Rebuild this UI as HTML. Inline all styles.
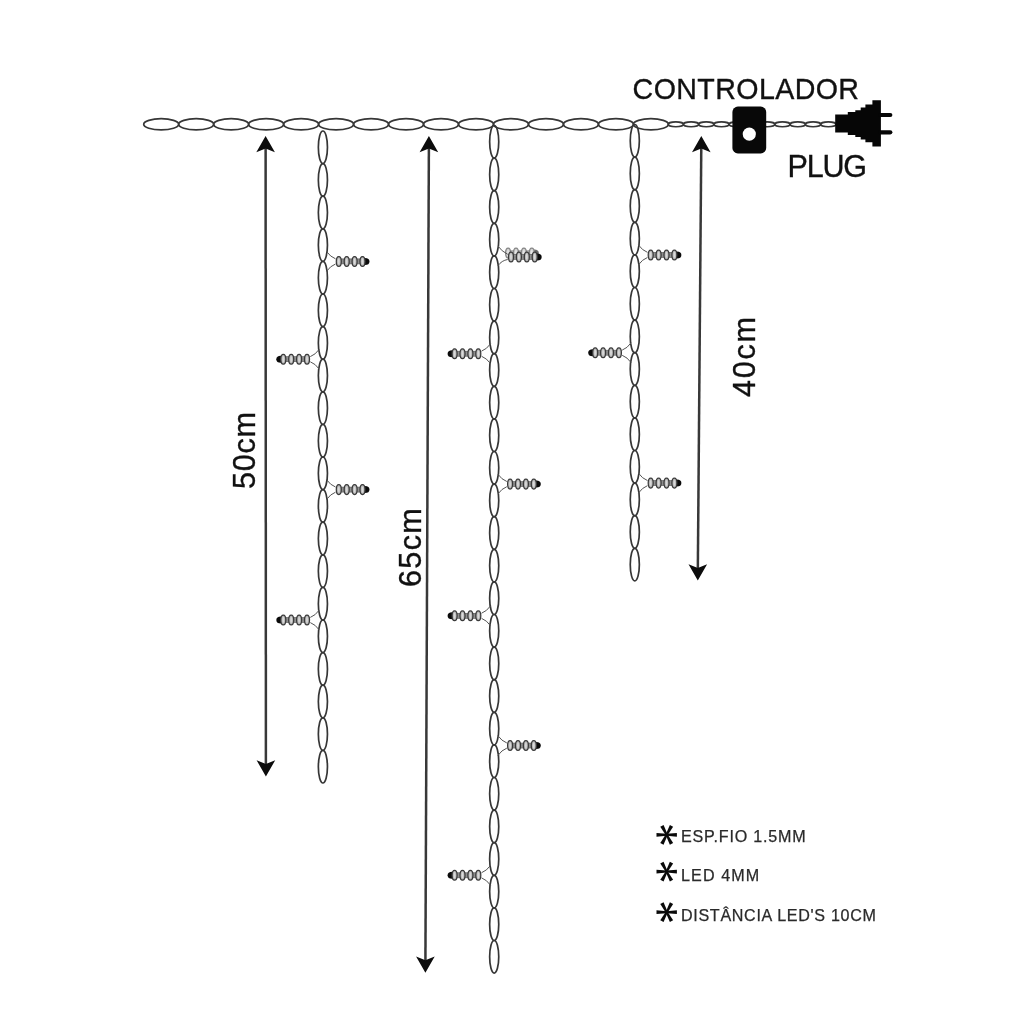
<!DOCTYPE html>
<html lang="pt">
<head>
<meta charset="utf-8">
<title>Cascata LED - diagrama</title>
<style>
html,body{margin:0;padding:0;background:#fff;}
body{filter:blur(0.55px);width:1024px;height:1024px;position:relative;overflow:hidden;font-family:"Liberation Sans",sans-serif;}
svg{position:absolute;left:0;top:0;display:block;}
.t{position:absolute;white-space:nowrap;line-height:1;color:#111;margin:0;-webkit-text-stroke:0.35px #111;}
.big{font-size:28.6px;}
#ctl{left:632.6px;top:74.5px;letter-spacing:0.4px;}
#plug{left:787.6px;top:150.6px;font-size:30.5px;letter-spacing:-1.2px;}
.dim{font-size:30.6px;transform-origin:0 0;transform:rotate(-90deg);}
#d50{left:228.6px;top:488.6px;letter-spacing:0.7px;}
#d65{left:394.8px;top:587.2px;letter-spacing:1.3px;}
#d40{left:729.2px;top:396.8px;letter-spacing:1.7px;}
.leg{font-size:16.1px;color:#2a2a2a;-webkit-text-stroke:0.25px #2a2a2a;letter-spacing:0.42px;}
#l1{left:681px;top:828.3px;letter-spacing:0.8px;}
#l2{left:681px;top:866.6px;letter-spacing:1.1px;}
#l3{left:681px;top:907.1px;letter-spacing:0.68px;}
</style>
</head>
<body>
<svg width="1024" height="1024" viewBox="0 0 1024 1024">
<g fill="none" stroke="#363636" stroke-width="1.7"><ellipse cx="161.19" cy="124.3" rx="17.49" ry="5.6"/><ellipse cx="196.17" cy="124.3" rx="17.49" ry="5.6"/><ellipse cx="231.15" cy="124.3" rx="17.49" ry="5.6"/><ellipse cx="266.13" cy="124.3" rx="17.49" ry="5.6"/><ellipse cx="301.11" cy="124.3" rx="17.49" ry="5.6"/><ellipse cx="336.09" cy="124.3" rx="17.49" ry="5.6"/><ellipse cx="371.07" cy="124.3" rx="17.49" ry="5.6"/><ellipse cx="406.05" cy="124.3" rx="17.49" ry="5.6"/><ellipse cx="441.03" cy="124.3" rx="17.49" ry="5.6"/><ellipse cx="476.01" cy="124.3" rx="17.49" ry="5.6"/><ellipse cx="510.99" cy="124.3" rx="17.49" ry="5.6"/><ellipse cx="545.97" cy="124.3" rx="17.49" ry="5.6"/><ellipse cx="580.95" cy="124.3" rx="17.49" ry="5.6"/><ellipse cx="615.93" cy="124.3" rx="17.49" ry="5.6"/><ellipse cx="650.91" cy="124.3" rx="17.49" ry="5.6"/><ellipse cx="675.82" cy="124.3" rx="7.62" ry="2.45"/><ellipse cx="691.05" cy="124.3" rx="7.62" ry="2.45"/><ellipse cx="706.28" cy="124.3" rx="7.62" ry="2.45"/><ellipse cx="721.5" cy="124.3" rx="7.62" ry="2.45"/><ellipse cx="736.74" cy="124.3" rx="7.62" ry="2.45"/><ellipse cx="828.35" cy="124.3" rx="7.65" ry="2.45"/><ellipse cx="813.05" cy="124.3" rx="7.65" ry="2.45"/><ellipse cx="797.75" cy="124.3" rx="7.65" ry="2.45"/><ellipse cx="782.45" cy="124.3" rx="7.65" ry="2.45"/><ellipse cx="767.15" cy="124.3" rx="7.65" ry="2.45"/></g>
<g fill="none" stroke="#363636" stroke-width="1.7"><ellipse cx="322.9" cy="147.3" rx="4.55" ry="16.3"/><ellipse cx="322.9" cy="179.9" rx="4.55" ry="16.3"/><ellipse cx="322.9" cy="212.5" rx="4.55" ry="16.3"/><ellipse cx="322.9" cy="245.1" rx="4.55" ry="16.3"/><ellipse cx="322.9" cy="277.7" rx="4.55" ry="16.3"/><ellipse cx="322.9" cy="310.3" rx="4.55" ry="16.3"/><ellipse cx="322.9" cy="342.9" rx="4.55" ry="16.3"/><ellipse cx="322.9" cy="375.5" rx="4.55" ry="16.3"/><ellipse cx="322.9" cy="408.1" rx="4.55" ry="16.3"/><ellipse cx="322.9" cy="440.7" rx="4.55" ry="16.3"/><ellipse cx="322.9" cy="473.3" rx="4.55" ry="16.3"/><ellipse cx="322.9" cy="505.9" rx="4.55" ry="16.3"/><ellipse cx="322.9" cy="538.5" rx="4.55" ry="16.3"/><ellipse cx="322.9" cy="571.1" rx="4.55" ry="16.3"/><ellipse cx="322.9" cy="603.7" rx="4.55" ry="16.3"/><ellipse cx="322.9" cy="636.3" rx="4.55" ry="16.3"/><ellipse cx="322.9" cy="668.9" rx="4.55" ry="16.3"/><ellipse cx="322.9" cy="701.5" rx="4.55" ry="16.3"/><ellipse cx="322.9" cy="734.1" rx="4.55" ry="16.3"/><ellipse cx="322.9" cy="766.7" rx="4.55" ry="16.3"/></g>
<path d="M335.5 258.8 Q330.4 256.9 326.5 251.4" fill="none" stroke="#555" stroke-width="1"/><path d="M335.5 264 Q330.4 265.9 326.5 271.4" fill="none" stroke="#555" stroke-width="1"/><ellipse cx="364.9" cy="261.4" rx="4.6" ry="3.5" fill="#0a0a0a"/><rect x="337" y="258.9" width="26.5" height="5" fill="#8e8e8e" stroke="#555" stroke-width="0.6"/><ellipse cx="338.8" cy="261.4" rx="2.5" ry="4.9" fill="#b8b8b8" stroke="#3a3a3a" stroke-width="1.25"/><ellipse cx="338.8" cy="261.4" rx="0.9" ry="3.2" fill="#dadada"/><ellipse cx="346.7" cy="261.4" rx="2.5" ry="4.9" fill="#b8b8b8" stroke="#3a3a3a" stroke-width="1.25"/><ellipse cx="346.7" cy="261.4" rx="0.9" ry="3.2" fill="#dadada"/><ellipse cx="354.6" cy="261.4" rx="2.5" ry="4.9" fill="#b8b8b8" stroke="#3a3a3a" stroke-width="1.25"/><ellipse cx="354.6" cy="261.4" rx="0.9" ry="3.2" fill="#dadada"/><ellipse cx="362.5" cy="261.4" rx="2.5" ry="4.9" fill="#b8b8b8" stroke="#3a3a3a" stroke-width="1.25"/><ellipse cx="362.5" cy="261.4" rx="0.9" ry="3.2" fill="#dadada"/>
<path d="M310.3 356.6 Q315.4 354.7 319.3 349.2" fill="none" stroke="#555" stroke-width="1"/><path d="M310.3 361.8 Q315.4 363.7 319.3 369.2" fill="none" stroke="#555" stroke-width="1"/><ellipse cx="280.9" cy="359.2" rx="4.6" ry="3.5" fill="#0a0a0a"/><rect x="282.3" y="356.7" width="26.5" height="5" fill="#8e8e8e" stroke="#555" stroke-width="0.6"/><ellipse cx="307" cy="359.2" rx="2.5" ry="4.9" fill="#b8b8b8" stroke="#3a3a3a" stroke-width="1.25"/><ellipse cx="307" cy="359.2" rx="0.9" ry="3.2" fill="#dadada"/><ellipse cx="299.1" cy="359.2" rx="2.5" ry="4.9" fill="#b8b8b8" stroke="#3a3a3a" stroke-width="1.25"/><ellipse cx="299.1" cy="359.2" rx="0.9" ry="3.2" fill="#dadada"/><ellipse cx="291.2" cy="359.2" rx="2.5" ry="4.9" fill="#b8b8b8" stroke="#3a3a3a" stroke-width="1.25"/><ellipse cx="291.2" cy="359.2" rx="0.9" ry="3.2" fill="#dadada"/><ellipse cx="283.3" cy="359.2" rx="2.5" ry="4.9" fill="#b8b8b8" stroke="#3a3a3a" stroke-width="1.25"/><ellipse cx="283.3" cy="359.2" rx="0.9" ry="3.2" fill="#dadada"/>
<path d="M335.5 487 Q330.4 485.1 326.5 479.6" fill="none" stroke="#555" stroke-width="1"/><path d="M335.5 492.2 Q330.4 494.1 326.5 499.6" fill="none" stroke="#555" stroke-width="1"/><ellipse cx="364.9" cy="489.6" rx="4.6" ry="3.5" fill="#0a0a0a"/><rect x="337" y="487.1" width="26.5" height="5" fill="#8e8e8e" stroke="#555" stroke-width="0.6"/><ellipse cx="338.8" cy="489.6" rx="2.5" ry="4.9" fill="#b8b8b8" stroke="#3a3a3a" stroke-width="1.25"/><ellipse cx="338.8" cy="489.6" rx="0.9" ry="3.2" fill="#dadada"/><ellipse cx="346.7" cy="489.6" rx="2.5" ry="4.9" fill="#b8b8b8" stroke="#3a3a3a" stroke-width="1.25"/><ellipse cx="346.7" cy="489.6" rx="0.9" ry="3.2" fill="#dadada"/><ellipse cx="354.6" cy="489.6" rx="2.5" ry="4.9" fill="#b8b8b8" stroke="#3a3a3a" stroke-width="1.25"/><ellipse cx="354.6" cy="489.6" rx="0.9" ry="3.2" fill="#dadada"/><ellipse cx="362.5" cy="489.6" rx="2.5" ry="4.9" fill="#b8b8b8" stroke="#3a3a3a" stroke-width="1.25"/><ellipse cx="362.5" cy="489.6" rx="0.9" ry="3.2" fill="#dadada"/>
<path d="M310.3 617.4 Q315.4 615.5 319.3 610" fill="none" stroke="#555" stroke-width="1"/><path d="M310.3 622.6 Q315.4 624.5 319.3 630" fill="none" stroke="#555" stroke-width="1"/><ellipse cx="280.9" cy="620" rx="4.6" ry="3.5" fill="#0a0a0a"/><rect x="282.3" y="617.5" width="26.5" height="5" fill="#8e8e8e" stroke="#555" stroke-width="0.6"/><ellipse cx="307" cy="620" rx="2.5" ry="4.9" fill="#b8b8b8" stroke="#3a3a3a" stroke-width="1.25"/><ellipse cx="307" cy="620" rx="0.9" ry="3.2" fill="#dadada"/><ellipse cx="299.1" cy="620" rx="2.5" ry="4.9" fill="#b8b8b8" stroke="#3a3a3a" stroke-width="1.25"/><ellipse cx="299.1" cy="620" rx="0.9" ry="3.2" fill="#dadada"/><ellipse cx="291.2" cy="620" rx="2.5" ry="4.9" fill="#b8b8b8" stroke="#3a3a3a" stroke-width="1.25"/><ellipse cx="291.2" cy="620" rx="0.9" ry="3.2" fill="#dadada"/><ellipse cx="283.3" cy="620" rx="2.5" ry="4.9" fill="#b8b8b8" stroke="#3a3a3a" stroke-width="1.25"/><ellipse cx="283.3" cy="620" rx="0.9" ry="3.2" fill="#dadada"/>
<g fill="none" stroke="#363636" stroke-width="1.7"><ellipse cx="494.2" cy="141.8" rx="4.55" ry="16.3"/><ellipse cx="494.2" cy="174.4" rx="4.55" ry="16.3"/><ellipse cx="494.2" cy="207" rx="4.55" ry="16.3"/><ellipse cx="494.2" cy="239.6" rx="4.55" ry="16.3"/><ellipse cx="494.2" cy="272.2" rx="4.55" ry="16.3"/><ellipse cx="494.2" cy="304.8" rx="4.55" ry="16.3"/><ellipse cx="494.2" cy="337.4" rx="4.55" ry="16.3"/><ellipse cx="494.2" cy="370" rx="4.55" ry="16.3"/><ellipse cx="494.2" cy="402.6" rx="4.55" ry="16.3"/><ellipse cx="494.2" cy="435.2" rx="4.55" ry="16.3"/><ellipse cx="494.2" cy="467.8" rx="4.55" ry="16.3"/><ellipse cx="494.2" cy="500.4" rx="4.55" ry="16.3"/><ellipse cx="494.2" cy="533" rx="4.55" ry="16.3"/><ellipse cx="494.2" cy="565.6" rx="4.55" ry="16.3"/><ellipse cx="494.2" cy="598.2" rx="4.55" ry="16.3"/><ellipse cx="494.2" cy="630.8" rx="4.55" ry="16.3"/><ellipse cx="494.2" cy="663.4" rx="4.55" ry="16.3"/><ellipse cx="494.2" cy="696" rx="4.55" ry="16.3"/><ellipse cx="494.2" cy="728.6" rx="4.55" ry="16.3"/><ellipse cx="494.2" cy="761.2" rx="4.55" ry="16.3"/><ellipse cx="494.2" cy="793.8" rx="4.55" ry="16.3"/><ellipse cx="494.2" cy="826.4" rx="4.55" ry="16.3"/><ellipse cx="494.2" cy="859" rx="4.55" ry="16.3"/><ellipse cx="494.2" cy="891.6" rx="4.55" ry="16.3"/><ellipse cx="494.2" cy="924.2" rx="4.55" ry="16.3"/><ellipse cx="494.2" cy="956.8" rx="4.55" ry="16.3"/></g>
<g opacity="0.62"><ellipse cx="534.2" cy="253.1" rx="4.6" ry="3.5" fill="#0a0a0a"/><rect x="506.3" y="250.6" width="26.5" height="5" fill="#8e8e8e" stroke="#555" stroke-width="0.6"/><ellipse cx="508.1" cy="253.1" rx="2.5" ry="4.9" fill="#b8b8b8" stroke="#3a3a3a" stroke-width="1.25"/><ellipse cx="508.1" cy="253.1" rx="0.9" ry="3.2" fill="#dadada"/><ellipse cx="516" cy="253.1" rx="2.5" ry="4.9" fill="#b8b8b8" stroke="#3a3a3a" stroke-width="1.25"/><ellipse cx="516" cy="253.1" rx="0.9" ry="3.2" fill="#dadada"/><ellipse cx="523.9" cy="253.1" rx="2.5" ry="4.9" fill="#b8b8b8" stroke="#3a3a3a" stroke-width="1.25"/><ellipse cx="523.9" cy="253.1" rx="0.9" ry="3.2" fill="#dadada"/><ellipse cx="531.8" cy="253.1" rx="2.5" ry="4.9" fill="#b8b8b8" stroke="#3a3a3a" stroke-width="1.25"/><ellipse cx="531.8" cy="253.1" rx="0.9" ry="3.2" fill="#dadada"/></g>
<path d="M507.7 254.3 Q501.7 251.4 497.8 245.9" fill="none" stroke="#555" stroke-width="1"/><path d="M507.7 259.5 Q501.7 260.4 497.8 265.9" fill="none" stroke="#555" stroke-width="1"/><ellipse cx="537.1" cy="256.9" rx="4.6" ry="3.5" fill="#0a0a0a"/><rect x="509.2" y="254.4" width="26.5" height="5" fill="#8e8e8e" stroke="#555" stroke-width="0.6"/><ellipse cx="511" cy="256.9" rx="2.5" ry="4.9" fill="#b8b8b8" stroke="#3a3a3a" stroke-width="1.25"/><ellipse cx="511" cy="256.9" rx="0.9" ry="3.2" fill="#dadada"/><ellipse cx="518.9" cy="256.9" rx="2.5" ry="4.9" fill="#b8b8b8" stroke="#3a3a3a" stroke-width="1.25"/><ellipse cx="518.9" cy="256.9" rx="0.9" ry="3.2" fill="#dadada"/><ellipse cx="526.8" cy="256.9" rx="2.5" ry="4.9" fill="#b8b8b8" stroke="#3a3a3a" stroke-width="1.25"/><ellipse cx="526.8" cy="256.9" rx="0.9" ry="3.2" fill="#dadada"/><ellipse cx="534.7" cy="256.9" rx="2.5" ry="4.9" fill="#b8b8b8" stroke="#3a3a3a" stroke-width="1.25"/><ellipse cx="534.7" cy="256.9" rx="0.9" ry="3.2" fill="#dadada"/>
<path d="M481.6 351.1 Q486.7 349.2 490.6 343.7" fill="none" stroke="#555" stroke-width="1"/><path d="M481.6 356.3 Q486.7 358.2 490.6 363.7" fill="none" stroke="#555" stroke-width="1"/><ellipse cx="452.2" cy="353.7" rx="4.6" ry="3.5" fill="#0a0a0a"/><rect x="453.6" y="351.2" width="26.5" height="5" fill="#8e8e8e" stroke="#555" stroke-width="0.6"/><ellipse cx="478.3" cy="353.7" rx="2.5" ry="4.9" fill="#b8b8b8" stroke="#3a3a3a" stroke-width="1.25"/><ellipse cx="478.3" cy="353.7" rx="0.9" ry="3.2" fill="#dadada"/><ellipse cx="470.4" cy="353.7" rx="2.5" ry="4.9" fill="#b8b8b8" stroke="#3a3a3a" stroke-width="1.25"/><ellipse cx="470.4" cy="353.7" rx="0.9" ry="3.2" fill="#dadada"/><ellipse cx="462.5" cy="353.7" rx="2.5" ry="4.9" fill="#b8b8b8" stroke="#3a3a3a" stroke-width="1.25"/><ellipse cx="462.5" cy="353.7" rx="0.9" ry="3.2" fill="#dadada"/><ellipse cx="454.6" cy="353.7" rx="2.5" ry="4.9" fill="#b8b8b8" stroke="#3a3a3a" stroke-width="1.25"/><ellipse cx="454.6" cy="353.7" rx="0.9" ry="3.2" fill="#dadada"/>
<path d="M506.8 481.5 Q501.7 479.6 497.8 474.1" fill="none" stroke="#555" stroke-width="1"/><path d="M506.8 486.7 Q501.7 488.6 497.8 494.1" fill="none" stroke="#555" stroke-width="1"/><ellipse cx="536.2" cy="484.1" rx="4.6" ry="3.5" fill="#0a0a0a"/><rect x="508.3" y="481.6" width="26.5" height="5" fill="#8e8e8e" stroke="#555" stroke-width="0.6"/><ellipse cx="510.1" cy="484.1" rx="2.5" ry="4.9" fill="#b8b8b8" stroke="#3a3a3a" stroke-width="1.25"/><ellipse cx="510.1" cy="484.1" rx="0.9" ry="3.2" fill="#dadada"/><ellipse cx="518" cy="484.1" rx="2.5" ry="4.9" fill="#b8b8b8" stroke="#3a3a3a" stroke-width="1.25"/><ellipse cx="518" cy="484.1" rx="0.9" ry="3.2" fill="#dadada"/><ellipse cx="525.9" cy="484.1" rx="2.5" ry="4.9" fill="#b8b8b8" stroke="#3a3a3a" stroke-width="1.25"/><ellipse cx="525.9" cy="484.1" rx="0.9" ry="3.2" fill="#dadada"/><ellipse cx="533.8" cy="484.1" rx="2.5" ry="4.9" fill="#b8b8b8" stroke="#3a3a3a" stroke-width="1.25"/><ellipse cx="533.8" cy="484.1" rx="0.9" ry="3.2" fill="#dadada"/>
<path d="M481.6 613.2 Q486.7 611.3 490.6 605.8" fill="none" stroke="#555" stroke-width="1"/><path d="M481.6 618.4 Q486.7 620.3 490.6 625.8" fill="none" stroke="#555" stroke-width="1"/><ellipse cx="452.2" cy="615.8" rx="4.6" ry="3.5" fill="#0a0a0a"/><rect x="453.6" y="613.3" width="26.5" height="5" fill="#8e8e8e" stroke="#555" stroke-width="0.6"/><ellipse cx="478.3" cy="615.8" rx="2.5" ry="4.9" fill="#b8b8b8" stroke="#3a3a3a" stroke-width="1.25"/><ellipse cx="478.3" cy="615.8" rx="0.9" ry="3.2" fill="#dadada"/><ellipse cx="470.4" cy="615.8" rx="2.5" ry="4.9" fill="#b8b8b8" stroke="#3a3a3a" stroke-width="1.25"/><ellipse cx="470.4" cy="615.8" rx="0.9" ry="3.2" fill="#dadada"/><ellipse cx="462.5" cy="615.8" rx="2.5" ry="4.9" fill="#b8b8b8" stroke="#3a3a3a" stroke-width="1.25"/><ellipse cx="462.5" cy="615.8" rx="0.9" ry="3.2" fill="#dadada"/><ellipse cx="454.6" cy="615.8" rx="2.5" ry="4.9" fill="#b8b8b8" stroke="#3a3a3a" stroke-width="1.25"/><ellipse cx="454.6" cy="615.8" rx="0.9" ry="3.2" fill="#dadada"/>
<path d="M506.8 742.95 Q501.7 741.05 497.8 735.55" fill="none" stroke="#555" stroke-width="1"/><path d="M506.8 748.15 Q501.7 750.05 497.8 755.55" fill="none" stroke="#555" stroke-width="1"/><ellipse cx="536.2" cy="745.55" rx="4.6" ry="3.5" fill="#0a0a0a"/><rect x="508.3" y="743.05" width="26.5" height="5" fill="#8e8e8e" stroke="#555" stroke-width="0.6"/><ellipse cx="510.1" cy="745.55" rx="2.5" ry="4.9" fill="#b8b8b8" stroke="#3a3a3a" stroke-width="1.25"/><ellipse cx="510.1" cy="745.55" rx="0.9" ry="3.2" fill="#dadada"/><ellipse cx="518" cy="745.55" rx="2.5" ry="4.9" fill="#b8b8b8" stroke="#3a3a3a" stroke-width="1.25"/><ellipse cx="518" cy="745.55" rx="0.9" ry="3.2" fill="#dadada"/><ellipse cx="525.9" cy="745.55" rx="2.5" ry="4.9" fill="#b8b8b8" stroke="#3a3a3a" stroke-width="1.25"/><ellipse cx="525.9" cy="745.55" rx="0.9" ry="3.2" fill="#dadada"/><ellipse cx="533.8" cy="745.55" rx="2.5" ry="4.9" fill="#b8b8b8" stroke="#3a3a3a" stroke-width="1.25"/><ellipse cx="533.8" cy="745.55" rx="0.9" ry="3.2" fill="#dadada"/>
<path d="M481.6 872.7 Q486.7 870.8 490.6 865.3" fill="none" stroke="#555" stroke-width="1"/><path d="M481.6 877.9 Q486.7 879.8 490.6 885.3" fill="none" stroke="#555" stroke-width="1"/><ellipse cx="452.2" cy="875.3" rx="4.6" ry="3.5" fill="#0a0a0a"/><rect x="453.6" y="872.8" width="26.5" height="5" fill="#8e8e8e" stroke="#555" stroke-width="0.6"/><ellipse cx="478.3" cy="875.3" rx="2.5" ry="4.9" fill="#b8b8b8" stroke="#3a3a3a" stroke-width="1.25"/><ellipse cx="478.3" cy="875.3" rx="0.9" ry="3.2" fill="#dadada"/><ellipse cx="470.4" cy="875.3" rx="2.5" ry="4.9" fill="#b8b8b8" stroke="#3a3a3a" stroke-width="1.25"/><ellipse cx="470.4" cy="875.3" rx="0.9" ry="3.2" fill="#dadada"/><ellipse cx="462.5" cy="875.3" rx="2.5" ry="4.9" fill="#b8b8b8" stroke="#3a3a3a" stroke-width="1.25"/><ellipse cx="462.5" cy="875.3" rx="0.9" ry="3.2" fill="#dadada"/><ellipse cx="454.6" cy="875.3" rx="2.5" ry="4.9" fill="#b8b8b8" stroke="#3a3a3a" stroke-width="1.25"/><ellipse cx="454.6" cy="875.3" rx="0.9" ry="3.2" fill="#dadada"/>
<g fill="none" stroke="#363636" stroke-width="1.7"><ellipse cx="634.8" cy="140.8" rx="4.55" ry="16.3"/><ellipse cx="634.8" cy="173.4" rx="4.55" ry="16.3"/><ellipse cx="634.8" cy="206" rx="4.55" ry="16.3"/><ellipse cx="634.8" cy="238.6" rx="4.55" ry="16.3"/><ellipse cx="634.8" cy="271.2" rx="4.55" ry="16.3"/><ellipse cx="634.8" cy="303.8" rx="4.55" ry="16.3"/><ellipse cx="634.8" cy="336.4" rx="4.55" ry="16.3"/><ellipse cx="634.8" cy="369" rx="4.55" ry="16.3"/><ellipse cx="634.8" cy="401.6" rx="4.55" ry="16.3"/><ellipse cx="634.8" cy="434.2" rx="4.55" ry="16.3"/><ellipse cx="634.8" cy="466.8" rx="4.55" ry="16.3"/><ellipse cx="634.8" cy="499.4" rx="4.55" ry="16.3"/><ellipse cx="634.8" cy="532" rx="4.55" ry="16.3"/><ellipse cx="634.8" cy="564.6" rx="4.55" ry="16.3"/></g>
<path d="M647.4 252.3 Q642.3 250.4 638.4 244.9" fill="none" stroke="#555" stroke-width="1"/><path d="M647.4 257.5 Q642.3 259.4 638.4 264.9" fill="none" stroke="#555" stroke-width="1"/><ellipse cx="676.8" cy="254.9" rx="4.6" ry="3.5" fill="#0a0a0a"/><rect x="648.9" y="252.4" width="26.5" height="5" fill="#8e8e8e" stroke="#555" stroke-width="0.6"/><ellipse cx="650.7" cy="254.9" rx="2.5" ry="4.9" fill="#b8b8b8" stroke="#3a3a3a" stroke-width="1.25"/><ellipse cx="650.7" cy="254.9" rx="0.9" ry="3.2" fill="#dadada"/><ellipse cx="658.6" cy="254.9" rx="2.5" ry="4.9" fill="#b8b8b8" stroke="#3a3a3a" stroke-width="1.25"/><ellipse cx="658.6" cy="254.9" rx="0.9" ry="3.2" fill="#dadada"/><ellipse cx="666.5" cy="254.9" rx="2.5" ry="4.9" fill="#b8b8b8" stroke="#3a3a3a" stroke-width="1.25"/><ellipse cx="666.5" cy="254.9" rx="0.9" ry="3.2" fill="#dadada"/><ellipse cx="674.4" cy="254.9" rx="2.5" ry="4.9" fill="#b8b8b8" stroke="#3a3a3a" stroke-width="1.25"/><ellipse cx="674.4" cy="254.9" rx="0.9" ry="3.2" fill="#dadada"/>
<path d="M622.2 350.1 Q627.3 348.2 631.2 342.7" fill="none" stroke="#555" stroke-width="1"/><path d="M622.2 355.3 Q627.3 357.2 631.2 362.7" fill="none" stroke="#555" stroke-width="1"/><ellipse cx="592.8" cy="352.7" rx="4.6" ry="3.5" fill="#0a0a0a"/><rect x="594.2" y="350.2" width="26.5" height="5" fill="#8e8e8e" stroke="#555" stroke-width="0.6"/><ellipse cx="618.9" cy="352.7" rx="2.5" ry="4.9" fill="#b8b8b8" stroke="#3a3a3a" stroke-width="1.25"/><ellipse cx="618.9" cy="352.7" rx="0.9" ry="3.2" fill="#dadada"/><ellipse cx="611" cy="352.7" rx="2.5" ry="4.9" fill="#b8b8b8" stroke="#3a3a3a" stroke-width="1.25"/><ellipse cx="611" cy="352.7" rx="0.9" ry="3.2" fill="#dadada"/><ellipse cx="603.1" cy="352.7" rx="2.5" ry="4.9" fill="#b8b8b8" stroke="#3a3a3a" stroke-width="1.25"/><ellipse cx="603.1" cy="352.7" rx="0.9" ry="3.2" fill="#dadada"/><ellipse cx="595.2" cy="352.7" rx="2.5" ry="4.9" fill="#b8b8b8" stroke="#3a3a3a" stroke-width="1.25"/><ellipse cx="595.2" cy="352.7" rx="0.9" ry="3.2" fill="#dadada"/>
<path d="M647.4 480.5 Q642.3 478.6 638.4 473.1" fill="none" stroke="#555" stroke-width="1"/><path d="M647.4 485.7 Q642.3 487.6 638.4 493.1" fill="none" stroke="#555" stroke-width="1"/><ellipse cx="676.8" cy="483.1" rx="4.6" ry="3.5" fill="#0a0a0a"/><rect x="648.9" y="480.6" width="26.5" height="5" fill="#8e8e8e" stroke="#555" stroke-width="0.6"/><ellipse cx="650.7" cy="483.1" rx="2.5" ry="4.9" fill="#b8b8b8" stroke="#3a3a3a" stroke-width="1.25"/><ellipse cx="650.7" cy="483.1" rx="0.9" ry="3.2" fill="#dadada"/><ellipse cx="658.6" cy="483.1" rx="2.5" ry="4.9" fill="#b8b8b8" stroke="#3a3a3a" stroke-width="1.25"/><ellipse cx="658.6" cy="483.1" rx="0.9" ry="3.2" fill="#dadada"/><ellipse cx="666.5" cy="483.1" rx="2.5" ry="4.9" fill="#b8b8b8" stroke="#3a3a3a" stroke-width="1.25"/><ellipse cx="666.5" cy="483.1" rx="0.9" ry="3.2" fill="#dadada"/><ellipse cx="674.4" cy="483.1" rx="2.5" ry="4.9" fill="#b8b8b8" stroke="#3a3a3a" stroke-width="1.25"/><ellipse cx="674.4" cy="483.1" rx="0.9" ry="3.2" fill="#dadada"/>
<line x1="265.6" y1="144" x2="265.9" y2="768.5" stroke="#383838" stroke-width="2.5"/><path d="M265.6 136 L274.9 152.3 L265.6 148.6 L256.3 152.3 Z" fill="#0c0c0c"/><path d="M265.9 776.5 L275.2 760.2 L265.9 763.9 L256.6 760.2 Z" fill="#0c0c0c"/>
<line x1="428.9" y1="144" x2="425.4" y2="964.8" stroke="#383838" stroke-width="2.5"/><path d="M428.9 136 L438.2 152.3 L428.9 148.6 L419.6 152.3 Z" fill="#0c0c0c"/><path d="M425.4 972.8 L434.7 956.5 L425.4 960.2 L416.1 956.5 Z" fill="#0c0c0c"/>
<line x1="701.3" y1="144" x2="697.8" y2="572.6" stroke="#383838" stroke-width="2.5"/><path d="M701.3 136 L710.6 152.3 L701.3 148.6 L692 152.3 Z" fill="#0c0c0c"/><path d="M697.8 580.6 L707.1 564.3 L697.8 568 L688.5 564.3 Z" fill="#0c0c0c"/>
<rect x="732.4" y="106.6" width="33.8" height="46.8" rx="5.5" ry="5.5" fill="#080808"/>
<circle cx="749.3" cy="134.1" r="6.6" fill="#fff"/>
<g fill="#060606"><polygon points="835.2,114.6 847.8,114.6 847.8,111.9 855.3,111.9 855.3,110.3 860.7,110.3 860.7,107.6 865.4,107.6 865.4,104.5 872.4,104.5 872.4,100.2 880.9,100.2 880.9,146.6 872.4,146.6 872.4,142.3 865.4,142.3 865.4,139.6 860.7,139.6 860.7,136.9 855.3,136.9 855.3,134.9 847.8,134.9 847.8,132.6 835.2,132.6"/><rect x="878" y="112.9" width="14.4" height="4.2" rx="2.1"/><rect x="878" y="130.2" width="14.4" height="4.2" rx="2.1"/></g>
<g fill="#0a0a0a"><polygon points="666.7,835.8 676.9,836.65 676.9,832.95 666.7,833.8"/><polygon points="667.58,835.27 673.12,826.66 669.86,824.93 665.82,834.33"/><polygon points="667.58,834.33 663.54,824.93 660.28,826.66 665.82,835.27"/><polygon points="666.7,833.8 656.5,832.95 656.5,836.65 666.7,835.8"/><polygon points="665.82,834.33 660.28,842.94 663.54,844.67 667.58,835.27"/><polygon points="665.82,835.27 669.86,844.67 673.12,842.94 667.58,834.33"/><circle cx="666.7" cy="834.8" r="1.6"/></g>
<g fill="#0a0a0a"><polygon points="666.7,872.6 676.9,873.45 676.9,869.75 666.7,870.6"/><polygon points="667.58,872.07 673.12,863.46 669.86,861.73 665.82,871.13"/><polygon points="667.58,871.13 663.54,861.73 660.28,863.46 665.82,872.07"/><polygon points="666.7,870.6 656.5,869.75 656.5,873.45 666.7,872.6"/><polygon points="665.82,871.13 660.28,879.74 663.54,881.47 667.58,872.07"/><polygon points="665.82,872.07 669.86,881.47 673.12,879.74 667.58,871.13"/><circle cx="666.7" cy="871.6" r="1.6"/></g>
<g fill="#0a0a0a"><polygon points="666.7,913.2 676.9,914.05 676.9,910.35 666.7,911.2"/><polygon points="667.58,912.67 673.12,904.06 669.86,902.33 665.82,911.73"/><polygon points="667.58,911.73 663.54,902.33 660.28,904.06 665.82,912.67"/><polygon points="666.7,911.2 656.5,910.35 656.5,914.05 666.7,913.2"/><polygon points="665.82,911.73 660.28,920.34 663.54,922.07 667.58,912.67"/><polygon points="665.82,912.67 669.86,922.07 673.12,920.34 667.58,911.73"/><circle cx="666.7" cy="912.2" r="1.6"/></g>
</svg>
<div class="t big" id="ctl">CONTROLADOR</div>
<div class="t big" id="plug">PLUG</div>
<div class="t dim" id="d50">50cm</div>
<div class="t dim" id="d65">65cm</div>
<div class="t dim" id="d40">40cm</div>
<div class="t leg" id="l1">ESP.FIO 1.5MM</div>
<div class="t leg" id="l2">LED 4MM</div>
<div class="t leg" id="l3">DIST&Acirc;NCIA LED'S 10CM</div>
</body>
</html>
